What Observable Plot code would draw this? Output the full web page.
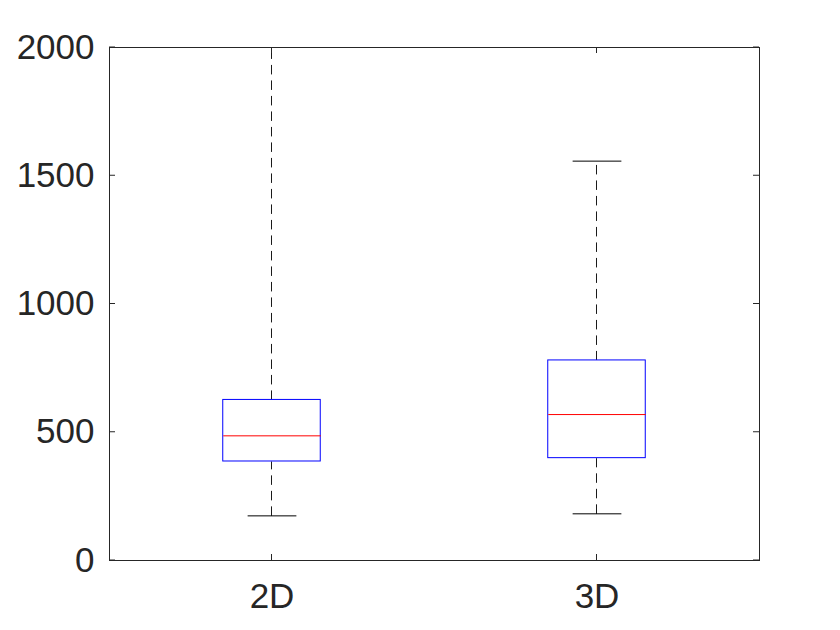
<!DOCTYPE html>
<html>
<head>
<meta charset="utf-8">
<script src="https://cdn.jsdelivr.net/npm/d3@7"></script>
<script src="https://cdn.jsdelivr.net/npm/@observablehq/plot@0.6"></script>
<style>
  body { margin: 0; background: #fff; }
  #chart svg { display: block; }
</style>
</head>
<body>
<div id="chart"></div>
<script>
const categories = ["2D", "3D"];
const lowerWhisker = [174, 182];
const q1 = [386, 399];
const median = [486, 569];
const q3 = [626, 780];
const upperWhisker = [2150, 1557];
const yTicks = [0, 500, 1000, 1500, 2000];

const boxes = categories.map((c, i) => ({
  cat: c, pos: i + 1,
  lo: lowerWhisker[i], q1: q1[i], med: median[i], q3: q3[i], hi: upperWhisker[i]
}));

const ink = "#262626";
const boxHalf = 0.15, capHalf = 0.075, tickLen = 6;

const chart = Plot.plot({
  width: 840,
  height: 630,
  marginLeft: 109,
  marginRight: 81,
  marginTop: 47,
  marginBottom: 70,
  style: { fontFamily: "'Liberation Sans', Arial, sans-serif", background: "#fff" },
  x: { domain: [0.5, 2.5], axis: null },
  y: { domain: [0, 2000], axis: null },
  marks: [
    Plot.link(boxes, { x1: "pos", x2: "pos", y1: "q3", y2: "hi", dx: -0.5, stroke: "#1a1a1a", strokeWidth: 1, strokeDasharray: "9.5,6", clip: true }),
    Plot.link(boxes, { x1: "pos", x2: "pos", y1: "lo", y2: "q1", dx: -0.5, stroke: "#1a1a1a", strokeWidth: 1, strokeDasharray: "9.5,6", clip: true }),
    Plot.link(boxes.filter(d => d.hi <= 2000), { x1: d => d.pos - capHalf, x2: d => d.pos + capHalf, y1: "hi", y2: "hi", stroke: "black", strokeWidth: 1 }),
    Plot.link(boxes, { x1: d => d.pos - capHalf, x2: d => d.pos + capHalf, y1: "lo", y2: "lo", stroke: "black", strokeWidth: 1 }),
    Plot.rect(boxes, { x1: d => d.pos - boxHalf, x2: d => d.pos + boxHalf, y1: "q1", y2: "q3", fill: "white", stroke: "#0000ff", strokeWidth: 1 }),
    Plot.link(boxes, { x1: d => d.pos - boxHalf, x2: d => d.pos + boxHalf, y1: "med", y2: "med", stroke: "#ff0000", strokeWidth: 1 }),
    Plot.frame({ stroke: ink, strokeWidth: 1 }),
    Plot.tickY(yTicks, { y: d => d, stroke: ink, render: (index, scales, values, dims) => {
      const g = d3.create("svg:g");
      for (const i of index) {
        const y = values.y[i];
        g.append("line").attr("x1", dims.marginLeft).attr("x2", dims.marginLeft + tickLen).attr("y1", y).attr("y2", y).attr("stroke", ink);
        g.append("line").attr("x1", dims.width - dims.marginRight - tickLen).attr("x2", dims.width - dims.marginRight).attr("y1", y).attr("y2", y).attr("stroke", ink);
      }
      return g.node();
    }}),
    Plot.tickX(boxes, { x: "pos", stroke: ink, render: (index, scales, values, dims) => {
      const g = d3.create("svg:g");
      for (const i of index) {
        const x = values.x[i];
        g.append("line").attr("x1", x).attr("x2", x).attr("y1", dims.height - dims.marginBottom).attr("y2", dims.height - dims.marginBottom - tickLen).attr("stroke", ink);
        g.append("line").attr("x1", x).attr("x2", x).attr("y1", dims.marginTop).attr("y2", dims.marginTop + tickLen).attr("stroke", ink);
      }
      return g.node();
    }}),
    Plot.text(yTicks, { x: 0.5, y: d => d, text: d => String(d), textAnchor: "end", dx: -15, fontSize: 35, fill: ink, lineAnchor: "middle" }),
    Plot.text(boxes, { x: "pos", y: 0, text: "cat", dy: 36, fontSize: 35, fill: ink, lineAnchor: "middle" })
  ]
});
document.getElementById("chart").appendChild(chart);
</script>
</body>
</html>
